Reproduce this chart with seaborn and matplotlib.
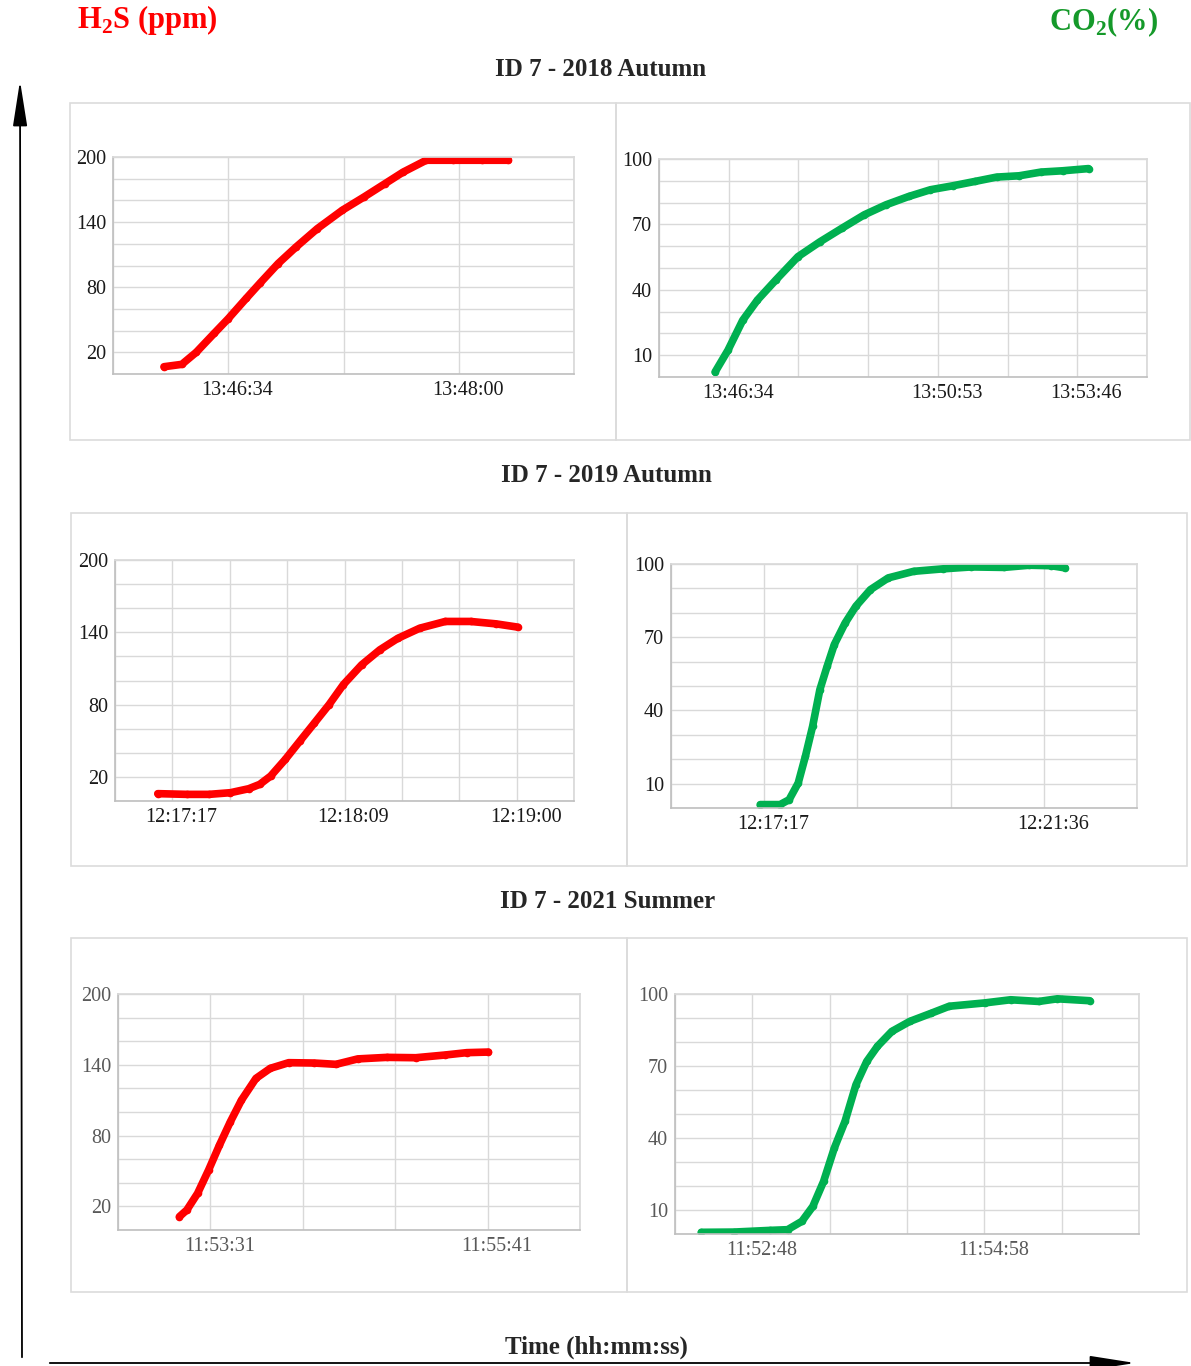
import numpy as np
import pandas as pd
import seaborn as sns
import matplotlib
matplotlib.use("Agg")
import matplotlib.pyplot as plt
from matplotlib.patches import Rectangle, FancyArrowPatch
from matplotlib.ticker import FixedLocator, MultipleLocator
from matplotlib.transforms import ScaledTranslation

sns.set_theme(style="white")
plt.rcParams["font.family"] = ["Liberation Serif", "DejaVu Serif"]
plt.rcParams["mathtext.fontset"] = "custom"
plt.rcParams["mathtext.rm"] = "Liberation Serif:bold"
plt.rcParams["mathtext.bf"] = "Liberation Serif:bold"

W, H = 1191, 1366
RED = "#ff0000"
GREEN = "#00b050"

# time in seconds relative to the first labelled tick of each panel
h2s_2018_t = [-24.1, -17.4, -12.0, -5.3, 0, 6.7, 12.0, 18.7, 25.4, 33.4, 42.8, 50.8, 58.8, 65.5, 74.2, 84.3, 95, 105]
h2s_2018_v = [6.7, 8.9, 20, 37.4, 51, 69.6, 84, 101.8, 117, 134, 151, 163, 175.5, 186, 197, 197, 197, 197]

co2_2018_t = [-16.9, -0.9, 17.3, 35.6, 58.4, 85.8, 113, 140.6, 168, 195, 223, 250, 277.5, 305, 332, 360, 387, 414, 446]
co2_2018_v = [2.3, 12.3, 26, 35.3, 44.5, 55.2, 62, 68.3, 74.4, 79, 82.8, 85.9, 87.7, 89.7, 91.7, 92.3, 94, 94.6, 95.6]

h2s_2019_t = [-4.4, 4.4, 11, 17.5, 23, 26.3, 29.6, 34, 38.4, 42.8, 47.2, 51.5, 57, 62.5, 67.9, 74.5, 82.2, 89.8, 97.5, 104]
h2s_2019_v = [6.1, 5.5, 5.5, 6.9, 10.2, 13.8, 20.7, 34.5, 49.7, 64.8, 80, 96.6, 113, 125.5, 135, 143.4, 149, 149, 147, 144.3]

co2_2019_t = [-3.7, 14.7, 23.1, 31.5, 38.2, 44.9, 51.6, 58.3, 65, 75, 85, 98.5, 115, 138.6, 165.4, 192, 222, 245.8, 266, 279]
co2_2019_v = [1.4, 1.4, 3.4, 10.2, 21.2, 33.5, 48.5, 58, 67, 75.8, 82.7, 89.5, 94.3, 97, 98, 98.8, 98.6, 99.5, 99.3, 98.4]

h2s_2021_t = [-14.5, -11, -6, -0.85, 4.25, 9.35, 14.5, 21.3, 28, 36.6, 48.5, 58.7, 68.9, 82.5, 96, 109.7, 119.9, 130]
h2s_2021_v = [11.3, 17, 31, 50.8, 72, 91.8, 110, 128.5, 137, 141.8, 141.5, 140.4, 145, 146.3, 146, 148.3, 150.3, 150.8]

co2_2021_t = [-28.5, -10.4, 9.6, 19.7, 27.7, 33.8, 39.8, 45.8, 51.8, 57.9, 63.9, 69.9, 77.9, 88, 100, 110, 130, 144.3, 160, 170.4, 188.5]
co2_2021_v = [0.7, 0.8, 1.5, 1.8, 5.3, 11.5, 21.9, 35.8, 47, 62.2, 71.9, 78.2, 84.4, 88.6, 92, 94.9, 96.3, 97.6, 96.9, 98, 97.2]

# tick labels (time axis) and their grid-step index
labels_2018_h2s = ["13:46:34", "13:48:00"]
labels_2018_co2 = ["13:46:34", "13:50:53", "13:53:46"]
labels_2019_h2s = ["12:17:17", "12:18:09", "12:19:00"]
labels_2019_co2 = ["12:17:17", "12:21:36"]
labels_2021_h2s = ["11:53:31", "11:55:41"]
labels_2021_co2 = ["11:52:48", "11:54:58"]

titles = ["ID 7 - 2018 Autumn", "ID 7 - 2019 Autumn", "ID 7 - 2021 Summer"]

# panel layout: box (x0, y0, x1, y1) and axes (x0, y0, x1, y1) in pixels
panels = [
    dict(t=h2s_2018_t, v=h2s_2018_v, color=RED, kind="h2s", step=43.2, nlo=1, nhi=3,
         lab=labels_2018_h2s, labidx=[0, 2], box=(70, 103, 616, 440), ax=(113, 157, 574, 374), tc="#1a1a1a"),
    dict(t=co2_2018_t, v=co2_2018_v, color=GREEN, kind="co2", step=86.4, nlo=1, nhi=6,
         lab=labels_2018_co2, labidx=[0, 3, 5], box=(616, 103, 1190, 440), ax=(659, 159, 1147, 377), tc="#1a1a1a"),
    dict(t=h2s_2019_t, v=h2s_2019_v, color=RED, kind="h2s", step=17.28, nlo=1, nhi=7,
         lab=labels_2019_h2s, labidx=[0, 3, 6], box=(71, 513, 627, 866), ax=(115, 560, 574, 801), tc="#1a1a1a"),
    dict(t=co2_2019_t, v=co2_2019_v, color=GREEN, kind="co2", step=86.4, nlo=1, nhi=4,
         lab=labels_2019_co2, labidx=[0, 3], box=(627, 513, 1187, 866), ax=(671, 564, 1137, 808), tc="#1a1a1a"),
    dict(t=h2s_2021_t, v=h2s_2021_v, color=RED, kind="h2s", step=43.2, nlo=1, nhi=4,
         lab=labels_2021_h2s, labidx=[0, 3], box=(71, 938, 627, 1292), ax=(118, 994, 580, 1230), tc="#595959"),
    dict(t=co2_2021_t, v=co2_2021_v, color=GREEN, kind="co2", step=43.2, nlo=1, nhi=5,
         lab=labels_2021_co2, labidx=[0, 3], box=(627, 938, 1187, 1292), ax=(675, 994, 1139, 1234), tc="#595959"),
]

fig = plt.figure(figsize=(W / 100, H / 100), dpi=100)


def fx(px):
    return px / W


def fy(py):
    return 1 - py / H


for p in panels:
    bx0, by0, bx1, by1 = p["box"]
    fig.add_artist(Rectangle((fx(bx0), fy(by1)), fx(bx1 - bx0), (by1 - by0) / H,
                             transform=fig.transFigure, fill=False, edgecolor="#dcdcdc", lw=1.2))
    ax0, ay0, ax1, ay1 = p["ax"]
    ax = fig.add_axes([fx(ax0), fy(ay1), fx(ax1 - ax0), (ay1 - ay0) / H])
    df = pd.DataFrame({"t": p["t"], "v": p["v"]})
    sns.lineplot(data=df, x="t", y="v", ax=ax, color=p["color"], linewidth=5.5,
                 marker="o", markersize=5.5, markeredgewidth=0,
                 solid_capstyle="round", solid_joinstyle="round")
    step = p["step"]
    ax.set_xlim(-p["nlo"] * step, p["nhi"] * step)
    if p["kind"] == "h2s":
        ax.set_ylim(0, 200)
        ax.yaxis.set_major_locator(FixedLocator([20, 80, 140, 200]))
        ax.yaxis.set_minor_locator(MultipleLocator(20))
    else:
        ax.set_ylim(0, 100)
        ax.yaxis.set_major_locator(FixedLocator([10, 40, 70, 100]))
        ax.yaxis.set_minor_locator(MultipleLocator(10))
    ax.xaxis.set_major_locator(FixedLocator([i * step for i in p["labidx"]]))
    ax.xaxis.set_minor_locator(FixedLocator([i * step for i in range(-p["nlo"], p["nhi"] + 1)]))
    ax.set_xticklabels(p["lab"])
    ax.set_xlabel("")
    ax.set_ylabel("")
    ax.grid(True, which="both", color="#d9d9d9", linewidth=1.0)
    ax.set_axisbelow(True)
    ax.tick_params(which="both", length=0, labelsize=14.5, colors=p["tc"])
    ax.tick_params(axis="y", pad=5)
    ax.tick_params(axis="x", pad=5)
    for s in ["top", "right"]:
        ax.spines[s].set_color("#d9d9d9")
    for s in ["left", "bottom"]:
        ax.spines[s].set_color("#bfbfbf")
        ax.spines[s].set_linewidth(1.2)
    ax.set_facecolor("white")
    off = ScaledTranslation(9 / 100, 0, fig.dpi_scale_trans)
    for lab in ax.get_xticklabels():
        lab.set_transform(lab.get_transform() + off)

# row titles
fig.text(fx(601), fy(69), titles[0], ha="center", va="center", fontsize=18, fontweight="bold")
fig.text(fx(606), fy(476), titles[1], ha="center", va="center", fontsize=18, fontweight="bold")
fig.text(fx(608), fy(901), titles[2], ha="center", va="center", fontsize=18, fontweight="bold")

# unit headers
fig.text(fx(77), fy(20), "H$_2$S (ppm)", ha="left", va="center", fontsize=22,
         fontweight="bold", color="#ff0000")
fig.text(fx(1158), fy(22), "CO$_2$(%)", ha="right", va="center", fontsize=22,
         fontweight="bold", color="#15992a")

# axis arrows
fig.add_artist(FancyArrowPatch((fx(22), fy(1360)), (fx(20), fy(78)), transform=fig.transFigure,
                               arrowstyle="-|>,head_length=1.4,head_width=0.22", mutation_scale=20,
                               color="black", lw=1.3))
fig.add_artist(FancyArrowPatch((fx(47), fy(1363)), (fx(1138), fy(1363)), transform=fig.transFigure,
                               arrowstyle="-|>,head_length=1.4,head_width=0.22", mutation_scale=20,
                               color="black", lw=1.3))
fig.text(fx(596), fy(1347), "Time (hh:mm:ss)", ha="center", va="center", fontsize=18, fontweight="bold")

fig.savefig("out.png", dpi=100, facecolor="white")
